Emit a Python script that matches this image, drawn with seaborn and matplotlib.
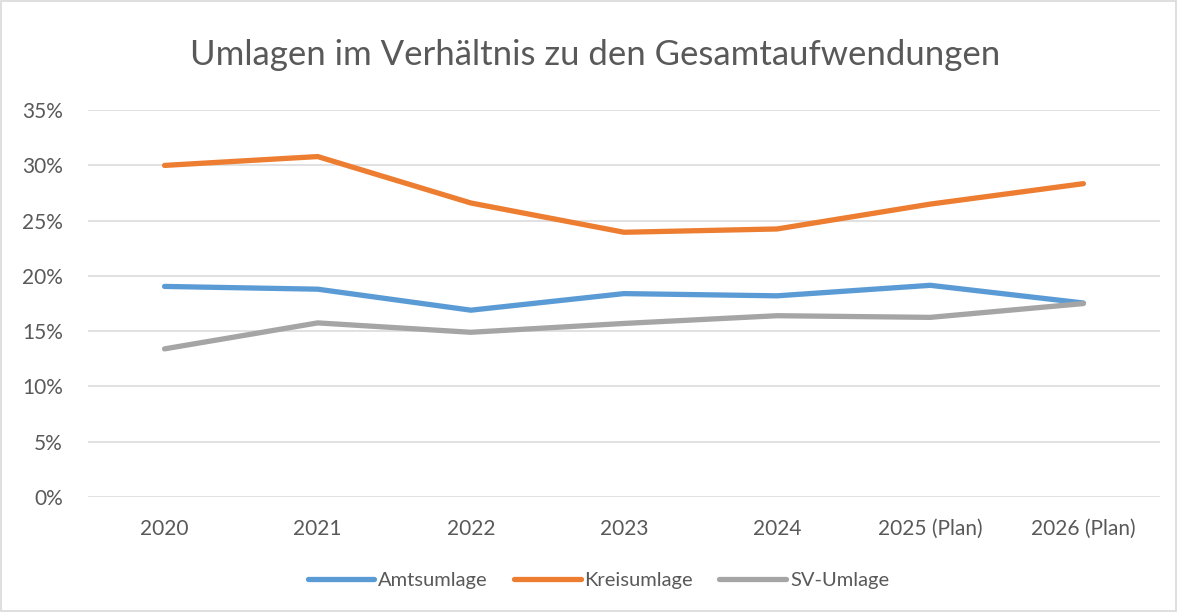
import pandas as pd
import seaborn as sns
import matplotlib.pyplot as plt
from matplotlib.ticker import PercentFormatter

# values (share of total expenses, in %)
years = ["2020", "2021", "2022", "2023", "2024", "2025 (Plan)", "2026 (Plan)"]
amtsumlage = [19.05, 18.8, 16.9, 18.4, 18.2, 19.15, 17.55]
kreisumlage = [30.0, 30.8, 26.6, 23.95, 24.25, 26.5, 28.35]
sv_umlage = [13.4, 15.75, 14.9, 15.7, 16.4, 16.25, 17.5]

series_names = ["Amtsumlage", "Kreisumlage", "SV-Umlage"]
colors = ["#5B9BD5", "#ED7D31", "#A5A5A5"]

df = pd.DataFrame({
    "Jahr": years * 3,
    "Anteil": amtsumlage + kreisumlage + sv_umlage,
    "Umlage": [n for n in series_names for _ in years],
})

sns.set_style("white")
plt.rcParams['font.family'] = ['Lato', 'DejaVu Sans']

fig = plt.figure(figsize=(11.78, 6.12), dpi=100)
ax = fig.add_axes([0.0747, 0.188, 0.910, 0.632])

sns.lineplot(data=df, x="Jahr", y="Anteil", hue="Umlage", palette=colors,
             linewidth=3.8, sort=False, ax=ax, legend=True)
for line in ax.lines:
    line.set_solid_capstyle("round")

ax.set_xlim(-0.5, len(years) - 0.5)
ax.set_ylim(0, 35)
ax.set_yticks(range(0, 36, 5))
ax.yaxis.set_major_formatter(PercentFormatter(decimals=0))
ax.grid(axis="y", color="#D9D9D9", linewidth=1.1)
ax.set_axisbelow(True)
for s in ax.spines.values():
    s.set_visible(False)
ax.tick_params(axis="both", length=0, labelsize=15, colors="#595959")
ax.tick_params(axis="x", pad=16)
ax.tick_params(axis="y", pad=18)
ax.set_xlabel("")
ax.set_ylabel("")

fig.suptitle("Umlagen im Verhältnis zu den Gesamtaufwendungen", x=0.505, y=0.91,
             va="center", fontsize=25, color="#595959")

handles, labels = ax.get_legend_handles_labels()
ax.get_legend().remove()
fig.legend(handles, labels, loc="center", bbox_to_anchor=(0.508, 0.052), ncol=3,
           frameon=False, fontsize=14.5, labelcolor="#595959",
           handlelength=3.3, handletextpad=0.2, columnspacing=1.3)

fig.patches.append(plt.Rectangle((0.001, 0.002), 0.997, 0.996, transform=fig.transFigure,
                                 fill=False, edgecolor="#D9D9D9", linewidth=1.2))

fig.savefig("out.png", dpi=100)
